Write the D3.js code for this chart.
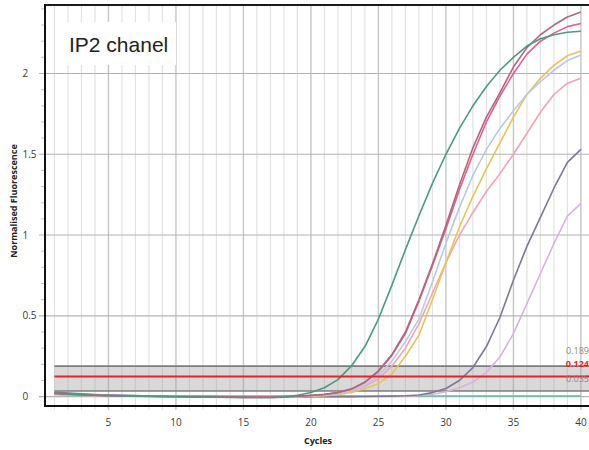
<!DOCTYPE html>
<html>
<head>
<meta charset="utf-8">
<script src="https://cdn.jsdelivr.net/npm/d3@7"></script>
<style>
  body { margin: 0; background: #fff; }
  svg { display: block; }
</style>
</head>
<body>
<div id="chart"></div>
<script>
// qPCR amplification curves, IP2 channel

const cycles = [1, 2, 3, 4, 5, 6, 7, 8, 9, 10, 11, 12, 13, 14, 15, 16, 17, 18, 19, 20,
  21, 22, 23, 24, 25, 26, 27, 28, 29, 30, 31, 32, 33, 34, 35, 36, 37, 38, 39, 40];

const greenCurve = [0.02, 0.016, 0.012, 0.009, 0.006, 0.004, 0.002, 0.001, 0, -0.001, -0.002, -0.003, -0.004, -0.005, -0.006, -0.007, -0.007, -0.003,
  0.008, 0.025, 0.055, 0.105, 0.19, 0.31, 0.48, 0.69, 0.91, 1.12, 1.32, 1.5, 1.66, 1.8, 1.92, 2.02, 2.1, 2.17, 2.215, 2.24, 2.255, 2.262];
const mauveCurve = [0.022, 0.017, 0.013, 0.01, 0.007, 0.005, 0.004, 0.003, 0.002, 0.001, 0, 0, -0.001, -0.001, -0.002, -0.002, -0.002, 0,
  0.003, 0.008, 0.014, 0.026, 0.048, 0.09, 0.16, 0.26, 0.4, 0.6, 0.82, 1.06, 1.31, 1.54, 1.73, 1.88, 2.04, 2.16, 2.24, 2.3, 2.35, 2.38];
const pinkCurve = [0.018, 0.014, 0.011, 0.008, 0.006, 0.004, 0.003, 0.002, 0.001, 0, 0, -0.001, -0.001, -0.002, -0.002, -0.003, -0.002, 0,
  0.002, 0.007, 0.013, 0.025, 0.046, 0.088, 0.155, 0.255, 0.39, 0.59, 0.81, 1.04, 1.28, 1.5, 1.7, 1.86, 2.0, 2.12, 2.2, 2.25, 2.29, 2.31];
const blueCurve = [0.016, 0.013, 0.01, 0.008, 0.006, 0.004, 0.003, 0.002, 0.001, 0, 0, -0.001, -0.001, -0.002, -0.002, -0.002, -0.002, -0.001,
  0.001, 0.004, 0.009, 0.018, 0.036, 0.07, 0.13, 0.22, 0.34, 0.48, 0.71, 0.95, 1.17, 1.37, 1.53, 1.66, 1.77, 1.87, 1.95, 2.02, 2.08, 2.115];
const yellowCurve = [0.014, 0.011, 0.009, 0.007, 0.005, 0.004, 0.003, 0.002, 0.001, 0, 0, -0.001, -0.001, -0.002, -0.003, -0.003, -0.003, -0.002,
  0, 0.002, 0.006, 0.012, 0.026, 0.05, 0.08, 0.14, 0.25, 0.38, 0.6, 0.83, 1.05, 1.24, 1.41, 1.57, 1.73, 1.87, 1.97, 2.05, 2.11, 2.14];
const lightPinkCurve = [0.015, 0.012, 0.009, 0.007, 0.005, 0.004, 0.003, 0.002, 0.001, 0, 0, 0, -0.001, -0.001, -0.002, -0.002, -0.002, -0.001,
  0.001, 0.004, 0.009, 0.018, 0.035, 0.066, 0.11, 0.19, 0.3, 0.45, 0.64, 0.83, 1.0, 1.14, 1.27, 1.38, 1.5, 1.63, 1.76, 1.87, 1.94, 1.97];
const grayCurve = [0.028, 0.022, 0.017, 0.013, 0.01, 0.008, 0.006, 0.004, 0.003, 0.002, 0.001, 0, 0, -0.001, -0.001, -0.001, -0.002, -0.002,
  -0.002, -0.001, -0.001, 0, 0, 0.001, 0.002, 0.003, 0.005, 0.01, 0.025, 0.05, 0.1, 0.18, 0.31, 0.49, 0.72, 0.93, 1.11, 1.29, 1.45, 1.53];
const lilacCurve = [0.026, 0.02, 0.015, 0.011, 0.008, 0.006, 0.004, 0.003, 0.002, 0.001, 0, 0, -0.001, -0.001, -0.002, -0.002, -0.002, -0.002,
  -0.002, -0.002, -0.001, -0.001, 0, 0, 0, 0.001, 0.003, 0.006, 0.015, 0.03, 0.055, 0.09, 0.15, 0.245, 0.39, 0.576, 0.762, 0.948, 1.117, 1.196];
const tealCurve = [0.014, 0.012, 0.01, 0.008, 0.007, 0.006, 0.005, 0.004, 0.004, 0.003, 0.003, 0.003, 0.003, 0.003, 0.003, 0.003, 0.003, 0.003,
  0.004, 0.004, 0.004, 0.004, 0.004, 0.004, 0.004, 0.004, 0.004, 0.004, 0.004, 0.004, 0.004, 0.004, 0.004, 0.004, 0.004, 0.004, 0.004, 0.004, 0.004, 0.004];

const seriesNames = ['teal', 'lilac', 'gray', 'lightPink', 'yellow', 'blue', 'pink', 'mauve', 'green'];
const seriesValues = [tealCurve, lilacCurve, grayCurve, lightPinkCurve, yellowCurve, blueCurve, pinkCurve, mauveCurve, greenCurve];
const seriesColors = ['#5dbfa6', '#d9b2de', '#7b7a92', '#f3a3b4', '#e6c458', '#b9c8e6', '#ec5c88', '#ad687f', '#4d9a7d'];

const thresholdUpper = 0.189;
const thresholdValue = 0.124;
const thresholdLower = 0.035;

const yTicks = [0, 0.5, 1, 1.5, 2];
const yMinorTicks = [0.1, 0.2, 0.3, 0.4, 0.6, 0.7, 0.8, 0.9, 1.1, 1.2, 1.3, 1.4, 1.6, 1.7, 1.8, 1.9, 2.1, 2.2, 2.3, 2.4];
const xTicks = [5, 10, 15, 20, 25, 30, 35, 40];

const width = 589;
const height = 450;
const plot = { left: 45, right: 589, top: 5, bottom: 406 };

const svg = d3.select('#chart')
  .append('svg')
  .attr('width', width)
  .attr('height', height);

const x = d3.scaleLinear().domain([0.3, 40.6]).range([plot.left, plot.right]);
const y = d3.scaleLinear().domain([-0.058, 2.424]).range([plot.bottom, plot.top]);

// Vertical grid (every cycle, darker every 5)
svg.append('g')
  .selectAll('line')
  .data(cycles)
  .enter()
  .append('line')
  .attr('x1', d => x(d))
  .attr('x2', d => x(d))
  .attr('y1', plot.top)
  .attr('y2', plot.bottom + 4)
  .attr('stroke', d => d % 5 === 0 ? '#c6c6c6' : '#e2e2e2')
  .attr('stroke-width', d => d % 5 === 0 ? 1.4 : 1.2);

// Horizontal grid on major ticks
svg.append('g')
  .selectAll('line')
  .data(yTicks)
  .enter()
  .append('line')
  .attr('x1', plot.left - 6)
  .attr('x2', plot.right)
  .attr('y1', d => y(d))
  .attr('y2', d => y(d))
  .attr('stroke', '#b3b3b3')
  .attr('stroke-width', 1.1);

// Minor y ticks
svg.append('g')
  .selectAll('line')
  .data(yMinorTicks)
  .enter()
  .append('line')
  .attr('x1', plot.left - 4)
  .attr('x2', plot.left)
  .attr('y1', d => y(d))
  .attr('y2', d => y(d))
  .attr('stroke', '#c8c8c8')
  .attr('stroke-width', 1);

// Threshold band
const bandStart = x(cycles[0]);
svg.append('rect')
  .attr('x', bandStart)
  .attr('y', y(thresholdUpper))
  .attr('width', plot.right - bandStart)
  .attr('height', y(thresholdLower) - y(thresholdUpper))
  .attr('fill', '#9a9a9a')
  .attr('fill-opacity', 0.38);

svg.append('g')
  .selectAll('line')
  .data([thresholdUpper, thresholdLower])
  .enter()
  .append('line')
  .attr('x1', bandStart)
  .attr('x2', plot.right)
  .attr('y1', d => y(d))
  .attr('y2', d => y(d))
  .attr('stroke', '#7c7c7c')
  .attr('stroke-width', 1.6);

// Amplification curves
const line = d3.line()
  .x((d, i) => x(cycles[i]))
  .y(d => y(d));

svg.append('g')
  .selectAll('path')
  .data(seriesValues)
  .enter()
  .append('path')
  .attr('class', (d, i) => 'curve ' + seriesNames[i])
  .attr('d', line)
  .attr('fill', 'none')
  .attr('stroke', (d, i) => seriesColors[i])
  .attr('stroke-width', 1.6)
  .attr('stroke-linejoin', 'round');

// Threshold line
svg.append('line')
  .attr('x1', bandStart)
  .attr('x2', plot.right)
  .attr('y1', y(thresholdValue))
  .attr('y2', y(thresholdValue))
  .attr('stroke', '#ea2328')
  .attr('stroke-width', 2);

// Threshold labels, stacked just above the band
const thresholdLabels = [
  { v: thresholdUpper, color: '#8a8a8a', weight: 'normal', dy: -12 },
  { v: thresholdValue, color: '#e8262b', weight: 'bold', dy: -9.8 },
  { v: thresholdLower, color: '#8a8a8a', weight: 'normal', dy: -9.4 }
];
svg.append('g')
  .selectAll('text')
  .data(thresholdLabels)
  .enter()
  .append('text')
  .attr('x', plot.right)
  .attr('y', d => y(d.v) + d.dy)
  .attr('text-anchor', 'end')
  .style('font-family', '"Open Sans", sans-serif')
  .style('font-size', '9px')
  .style('font-weight', d => d.weight)
  .style('fill', d => d.color)
  .text(d => d.v.toFixed(3));

// Frame
svg.append('line')
  .attr('x1', plot.left).attr('x2', plot.right)
  .attr('y1', plot.top).attr('y2', plot.top)
  .attr('stroke', '#1a1a1a').attr('stroke-width', 2);
svg.append('line')
  .attr('x1', plot.left).attr('x2', plot.right)
  .attr('y1', plot.bottom).attr('y2', plot.bottom)
  .attr('stroke', '#111').attr('stroke-width', 2);
svg.append('line')
  .attr('x1', plot.left).attr('x2', plot.left)
  .attr('y1', plot.top - 1).attr('y2', plot.bottom + 1)
  .attr('stroke', '#111').attr('stroke-width', 2);

// Y tick labels (left aligned)
svg.append('g')
  .selectAll('text')
  .data(yTicks)
  .enter()
  .append('text')
  .attr('x', 22.5)
  .attr('y', d => y(d) + 3.5)
  .style('font-family', '"Open Sans", sans-serif')
  .style('font-size', '10px')
  .style('fill', '#3a3a3a')
  .text(d => d);

// X tick labels
svg.append('g')
  .selectAll('text')
  .data(xTicks)
  .enter()
  .append('text')
  .attr('x', d => x(d))
  .attr('y', 425.5)
  .attr('text-anchor', 'middle')
  .style('font-family', '"Open Sans", sans-serif')
  .style('font-size', '10px')
  .style('fill', '#3a3a3a')
  .text(d => d);

// Axis titles
svg.append('text')
  .attr('x', 318)
  .attr('y', 443.5)
  .attr('text-anchor', 'middle')
  .style('font-family', '"Open Sans", sans-serif')
  .style('font-size', '9px')
  .style('font-weight', 'bold')
  .style('fill', '#222')
  .text('Cycles');

svg.append('text')
  .attr('transform', 'translate(17, 201) rotate(-90)')
  .attr('text-anchor', 'middle')
  .style('font-family', '"Open Sans", sans-serif')
  .style('font-size', '9px')
  .style('font-weight', 'bold')
  .style('fill', '#222')
  .text('Normalised Fluorescence');

// Channel label box
svg.append('rect')
  .attr('x', 57)
  .attr('y', 22)
  .attr('width', 119)
  .attr('height', 43)
  .attr('fill', '#fff');

svg.append('text')
  .attr('x', 69)
  .attr('y', 51.5)
  .style('font-family', '"Liberation Sans", Arial, sans-serif')
  .style('font-size', '21px')
  .style('fill', '#222')
  .text('IP2 chanel');
</script>
</body>
</html>
